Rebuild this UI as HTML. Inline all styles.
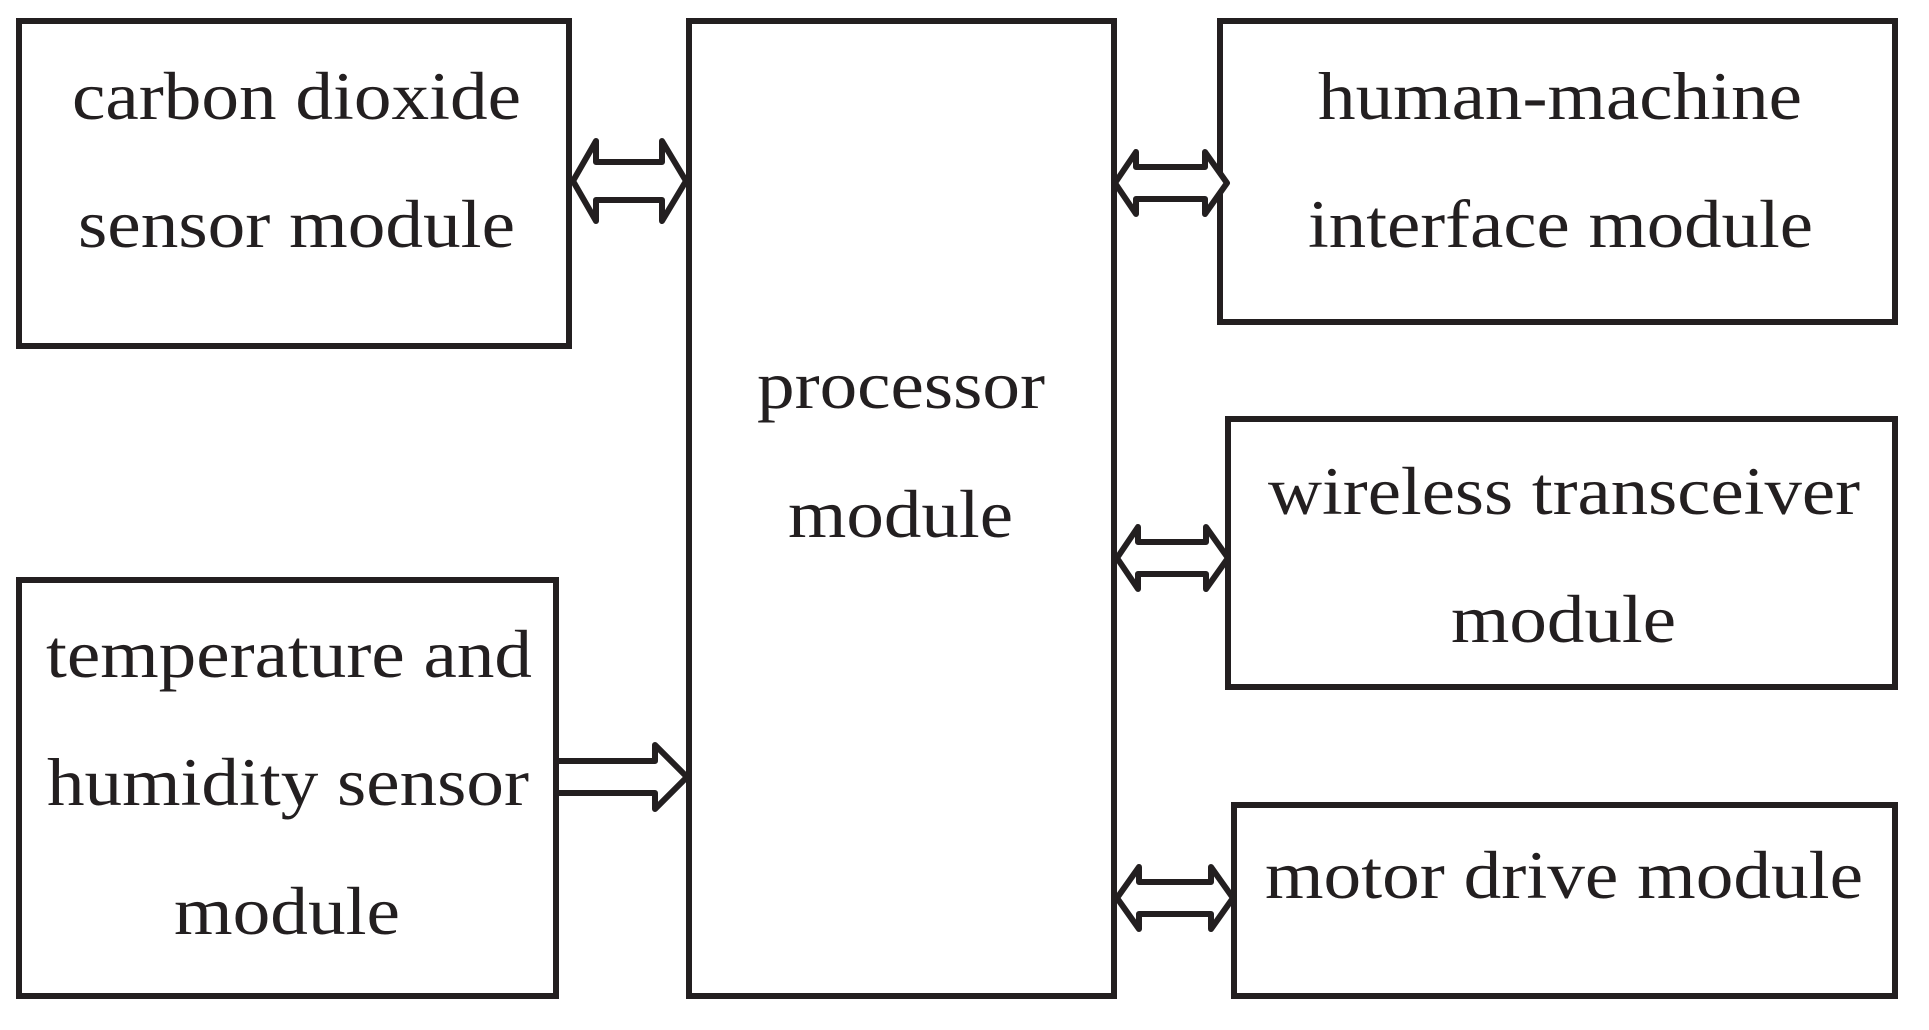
<!DOCTYPE html>
<html><head><meta charset="utf-8"><style>
html,body{margin:0;padding:0;background:#fff;}
svg{display:block;}
text{font-family:"Liberation Serif",serif;font-size:68px;fill:#231f20;}
</style></head><body>
<svg width="1929" height="1030" viewBox="0 0 1929 1030" xmlns="http://www.w3.org/2000/svg">
<g fill="none" stroke="#231f20" stroke-width="6">
<rect x="19" y="21" width="550" height="325"/>
<rect x="689" y="21" width="425" height="975"/>
<rect x="1220" y="21" width="675" height="301"/>
<rect x="1228" y="419" width="667" height="268"/>
<rect x="1234" y="805" width="661" height="191"/>
<rect x="19" y="580" width="537" height="416"/>
</g>
<g fill="#fff" stroke="#231f20" stroke-width="6" stroke-linejoin="round">
<polygon points="573,181 596,141 596,162 662,162 662,141 686,181 662,221 662,200 596,200 596,221"/>
<polygon points="1115,183 1136,152 1136,167 1205,167 1205,152 1227,183 1205,214 1205,199 1136,199 1136,214"/>
<polygon points="1117,558 1138,527 1138,542 1206,542 1206,527 1228,558 1206,589 1206,574 1138,574 1138,589"/>
<polygon points="1117,898 1139,867 1139,882 1211,882 1211,867 1233,898 1211,929 1211,914 1139,914 1139,929"/>
<polygon points="556,761 655,761 655,745 687,777 655,809 655,793 556,793"/>
</g>
<text x="72" y="119" textLength="449" lengthAdjust="spacingAndGlyphs">carbon dioxide</text>
<text x="78" y="247" textLength="437" lengthAdjust="spacingAndGlyphs">sensor module</text>
<text x="1318" y="119" textLength="484" lengthAdjust="spacingAndGlyphs">human-machine</text>
<text x="1308" y="247" textLength="505" lengthAdjust="spacingAndGlyphs">interface module</text>
<text x="757" y="408" textLength="288" lengthAdjust="spacingAndGlyphs">processor</text>
<text x="788" y="537" textLength="225" lengthAdjust="spacingAndGlyphs">module</text>
<text x="1268" y="514" textLength="592" lengthAdjust="spacingAndGlyphs">wireless transceiver</text>
<text x="1451" y="642" textLength="225" lengthAdjust="spacingAndGlyphs">module</text>
<text x="46" y="677" textLength="486" lengthAdjust="spacingAndGlyphs">temperature and</text>
<text x="47" y="805" textLength="482" lengthAdjust="spacingAndGlyphs">humidity sensor</text>
<text x="174" y="934" textLength="226" lengthAdjust="spacingAndGlyphs">module</text>
<text x="1265" y="898" textLength="598" lengthAdjust="spacingAndGlyphs">motor drive module</text>
</svg>
</body></html>
